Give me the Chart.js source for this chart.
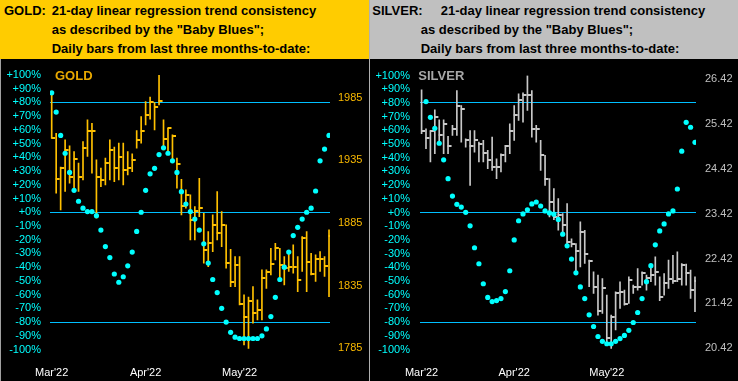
<!DOCTYPE html>
<html><head><meta charset="utf-8">
<script src="https://cdn.jsdelivr.net/npm/chart.js@4"></script>
<style>
html,body{margin:0;padding:0;background:#000;width:738px;height:381px;overflow:hidden;position:relative;font-family:"Liberation Sans",Arial,sans-serif;}
.hdr{position:absolute;top:0;height:59px;}
.ht{position:absolute;font:bold 13px "Liberation Sans",Arial,sans-serif;color:#000;white-space:pre;line-height:19px;}
.lbl{position:absolute;font:bold 13px "Liberation Sans",Arial,sans-serif;line-height:16px;}
canvas{position:absolute;top:59px;}
</style></head><body>
<div class="hdr" style="left:0;width:369px;background:#FFCC00"></div>
<div class="hdr" style="left:370px;width:368px;background:#C0C0C0"></div>
<div style="position:absolute;left:369px;top:0;width:1px;height:381px;background:#B0B0B0"></div>
<div style="position:absolute;left:0;top:59px;width:1px;height:322px;background:#A0A0A0"></div>
<div class="ht" style="left:4px;top:0.5px">GOLD:</div>
<div class="ht" style="left:51.7px;top:0.5px">21-day linear regression trend consistency
as described by the "Baby Blues";
Daily bars from last three months-to-date:</div>
<div class="ht" style="left:372.3px;top:0.5px">SILVER:</div>
<div class="ht" style="left:440.7px;top:0.5px">21-day linear regression trend consistency</div>
<div class="ht" style="left:420.7px;top:19.5px">as described by the "Baby Blues";
Daily bars from last three months-to-date:</div>
<canvas id="g" width="369" height="322" style="left:0"></canvas>
<canvas id="s" width="368" height="322" style="left:370px"></canvas>
<div class="lbl" style="left:55px;top:67.5px;color:#E8A800">GOLD</div>
<div class="lbl" style="left:418.3px;top:67.5px;color:#A8A8A8">SILVER</div>
<script>
const monthLabels = ["Mar'22", "Apr'22", "May'22"];
const monthIndex = [0, 21, 42];
const goldPriceTicks = [1785, 1835, 1885, 1935, 1985];
const silverPriceTicks = [20.42, 21.42, 22.42, 23.42, 24.42, 25.42, 26.42];

const goldHigh = [1989.2,1956.7,1929.6,1951.4,1946.6,1942.1,1932.8,1950.1,1967.4,1964.7,
1935.4,1928.8,1936.8,1951.4,1945.6,1948.8,1948.8,1942.1,1940.2,1958.9,
1970.0,1982.0,1985.5,1981.2,2003.3,1967.4,1960.7,1955.4,1936.8,1920.0,
1911.5,1907.5,1898.2,1920.8,1892.8,1878.2,1891.5,1910.2,1894.2,1883.5,
1864.1,1858.2,1858.2,1827.6,1825.8,1834.3,1823.6,1847.6,1847.6,1864.9,
1868.9,1864.9,1858.2,1860.9,1867.6,1858.2,1874.2,1878.2,1860.9,1859.6,
1862.2,1858.2,1879.5];
const goldLow = [1952.7,1908.8,1895.5,1910.2,1916.8,1912.8,1910.2,1919.5,1938.1,1924.8,
1888.8,1914.1,1915.5,1919.5,1918.1,1919.5,1915.5,1923.5,1926.1,1944.8,
1948.8,1963.4,1967.9,1959.4,1979.4,1943.4,1940.8,1935.4,1912.8,1891.5,
1896.8,1871.5,1871.5,1890.0,1852.9,1850.2,1862.2,1871.5,1866.2,1848.9,
1834.3,1834.3,1819.6,1787.7,1785.0,1805.0,1807.7,1807.7,1832.9,1843.6,
1855.6,1838.3,1835.6,1846.3,1844.9,1830.3,1846.3,1830.3,1843.6,1838.3,
1846.3,1842.3,1826.3];
const goldClose = [1953.3,1920.0,1928.8,1943.4,1922.1,1936.2,1922.1,1944.8,1958.1,1958.1,
1922.1,1919.5,1933.3,1943.4,1928.8,1937.6,1927.5,1928.8,1935.4,1951.4,
1958.1,1971.4,1982.0,1977.5,1982.8,1952.2,1960.7,1954.1,1932.2,1899.0,
1907.0,1887.5,1894.7,1897.4,1863.6,1868.9,1883.5,1877.4,1883.5,1853.4,
1838.3,1851.6,1820.4,1810.3,1823.1,1813.0,1815.6,1840.9,1845.7,1852.4,
1864.9,1851.6,1848.9,1850.2,1850.2,1839.6,1872.9,1854.2,1844.1,1856.1,
1856.1,1850.8,1875.0];
const goldTrend = [87,73,56,43,29,16,8,3,0.5,0.5,-2.5,-13,-25,-33,-45,-51,-47,-39,-29,-14,
0,16,28,32,42,47,43,37.5,29,15,6,0.5,-5,-13,-23,-37,-49,-58.5,-70,-80,
-87.5,-91,-92,-92,-92,-92,-92,-90,-85,-76,-62,-49,-40,-29,-17,-11,-5,0,3,15.5,
37.5,46,56];

const silverHigh = [26.175,25.308,25.271,25.731,25.508,25.508,25.138,25.383,26.160,25.827,
25.086,25.271,25.271,25.012,25.049,24.827,25.123,24.642,24.753,24.938,
25.420,25.827,26.086,26.108,26.494,26.160,25.383,25.049,24.716,24.197,
23.975,23.753,23.419,23.642,22.86,22.752,23.234,23.049,22.382,22.123,
22.049,21.975,21.604,21.16,21.678,21.901,21.715,22.012,21.827,22.197,
22.123,22.049,22.271,22.456,22.012,22.086,22.382,22.493,22.567,22.308,
22.293,22.16,22.012];
const silverLow = [25.197,24.864,24.568,24.753,24.953,24.753,24.753,25.160,25.160,25.012,
24.90,24.049,24.790,24.568,24.568,24.420,24.383,24.197,24.346,24.568,
24.753,25.049,25.494,25.457,25.716,25.123,25.012,24.383,24.049,23.345,
23.286,23.049,22.938,22.752,22.68,22.123,22.234,22.308,21.79,21.641,
21.16,21.197,20.493,20.419,20.827,21.308,21.382,21.419,21.641,21.715,
21.827,21.715,21.901,21.827,21.478,21.604,21.752,21.864,21.901,21.827,
21.827,21.53,21.234];
const silverClose = [25.249,25.101,25.249,25.568,25.160,25.420,24.916,25.308,25.827,25.745,
25.049,24.923,25.049,24.975,24.775,24.620,24.457,24.457,24.716,24.923,
25.257,25.605,25.960,26.064,26.064,25.308,25.308,24.731,24.197,23.68,
23.345,23.383,23.16,22.79,22.752,22.59,23.012,22.53,22.367,21.775,
21.256,21.767,20.656,21.123,21.656,21.678,21.404,21.938,21.775,21.775,
22.086,21.975,22.049,22.123,21.553,21.878,21.952,21.915,21.952,22.271,
22.086,21.708,21.915];
const silverTrend = [null,81,69.5,61.5,50.6,38.5,24.7,12,6,4,0.2,-9.7,-25.7,-37.4,-52,-62,-65,-64.3,-62.8,-57.7,
-42.5,-20,-6,-1,2,6.3,7.7,4.8,1.2,-0.3,-1.2,-5,-15.8,-24.3,-34,-44,-54.3,-62.8,-74.7,-83.2,
-90.5,-94,-95.8,-95.8,-94,-92,-89.7,-86,-80.3,-73,-62.8,-50.5,-38.8,-23.6,-13.4,-8.3,-1,1.2,17.2,44.8,
65.9,62.3,51.3];

function tickImg(color){
  const c=document.createElement('canvas'); c.width=9; c.height=2;
  const g=c.getContext('2d'); g.fillStyle=color; g.fillRect(4,0,4,2); return c;
}
const FONT = {family:'"Liberation Sans", Arial, sans-serif', size:11};

function panel(id, o){
  new Chart(document.getElementById(id), {
    type:'bar',
    data:{datasets:[
      {type:'scatter', order:0, data:o.trend.map((v,i)=>({x:i,y:v})), xAxisID:'x', yAxisID:'y',
       pointStyle:'circle', pointRadius:2.6, backgroundColor:'#00FFFF', borderWidth:0},
      {type:'scatter', order:1, data:o.close.map((v,i)=>({x:i,y:v})), xAxisID:'x', yAxisID:'yp',
       pointStyle:tickImg(o.barColor), pointRadius:1, borderWidth:0},
      {type:'bar', order:2, data:o.high.map((h,i)=>({x:i,y:[o.low[i],h]})), xAxisID:'x', yAxisID:'yp',
       backgroundColor:o.barColor, borderWidth:0, barThickness:1, grouped:false}
    ]},
    options:{
      responsive:false, animation:false, events:[], devicePixelRatio:1,
      layout:{padding:{top:16,left:0,right:0,bottom:0}},
      plugins:{legend:{display:false}, tooltip:{enabled:false}},
      scales:{
        x:{type:'linear', min:o.xmin, max:o.xmax, offset:false,
           grid:{display:false}, border:{display:false},
           afterBuildTicks:s=>{s.ticks=monthIndex.map(v=>({value:v}));},
           afterFit:s=>{s.height=31.5;},
           ticks:{color:'#FFFFFF', font:FONT, padding:9, autoSkip:false, maxRotation:0,
                  callback:(v,i)=>monthLabels[i]}},
        y:{type:'linear', position:'left', min:-100, max:100,
           border:{display:false},
           grid:{drawTicks:false, lineWidth:1,
                 color:c=>([80,0,-80].includes(c.tick.value)?'#00BFFF':'rgba(0,0,0,0)')},
           afterFit:s=>{s.width=50;},
           ticks:{stepSize:10, color:'#00FFFF', font:FONT, padding:o.lpad, autoSkip:false,
                  callback:v=>(v>=0?'+':'')+v+'%'}},
        yp:{type:'linear', position:'right', min:o.pmin, max:o.pmax,
           border:{display:false}, grid:{display:false, drawTicks:false},
           afterBuildTicks:s=>{s.ticks=o.pticks.map(v=>({value:v}));},
           afterFit:s=>{s.width=o.rw;},
           ticks:{color:o.pColor, font:FONT, padding:o.rpad, autoSkip:false,
                  callback:v=>o.fmt(v)}}
      }
    }
  });
}

panel('g', {high:goldHigh, low:goldLow, close:goldClose, trend:goldTrend,
  barColor:'#FFC000', pColor:'#F8B800', xmin:-0.38, xmax:62.22, pmin:1784.04, pmax:2003.2,
  pticks:goldPriceTicks, fmt:v=>String(v), rw:39, lpad:9, rpad:8});
panel('s', {high:silverHigh, low:silverLow, close:silverClose, trend:silverTrend,
  barColor:'#C8C8C8', pColor:'#C0C0C0', xmin:-0.36, xmax:62.23, pmin:20.393, pmax:26.493,
  pticks:silverPriceTicks, fmt:v=>v.toFixed(2), rw:42, lpad:10, rpad:9});
</script>
</body></html>
